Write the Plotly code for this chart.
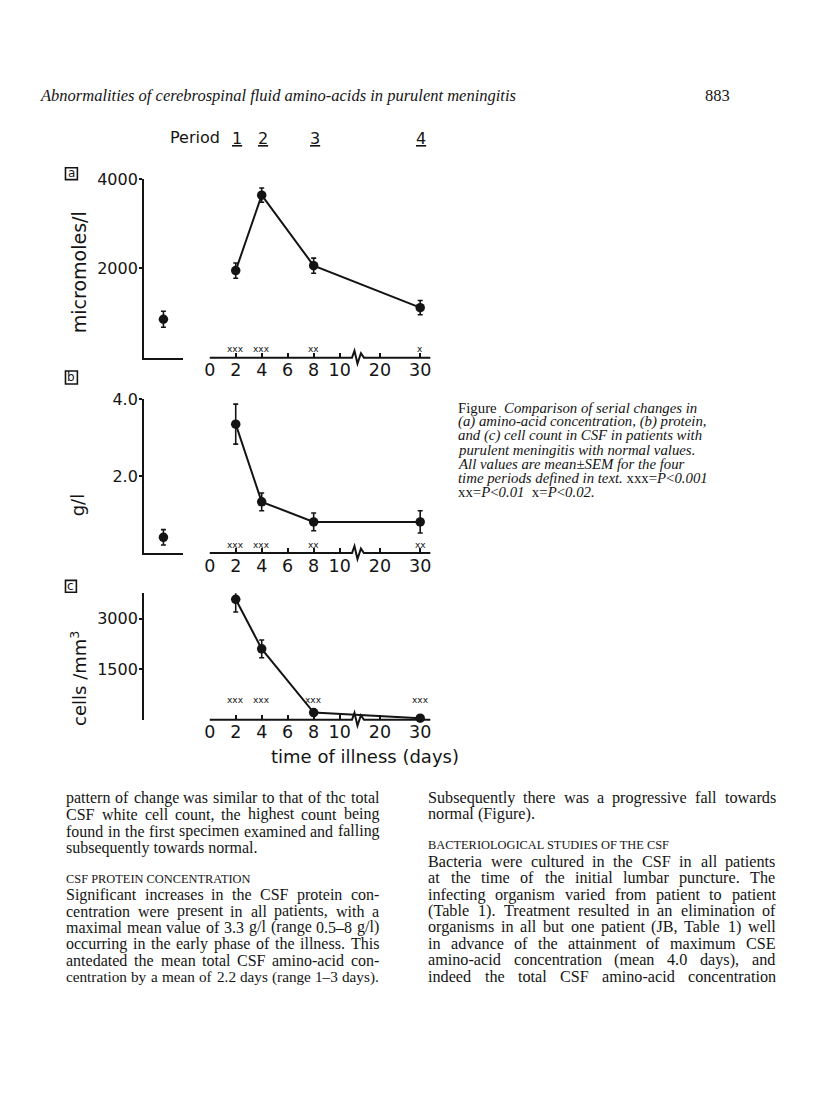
import plotly.graph_objects as go

"""
Serial CSF changes in purulent meningitis: amino-acids, protein and cell count,
laid out as the printed journal page (p. 883).
"""

W, H = 816, 1110
INK = "#141414"
SANS = "DejaVu Sans"
SERIF = "Liberation Serif"

# ---- data ----
NORMAL_LABEL = ["normal"]
DAYS = [2, 4, 8, 30]
DAY_TICKS = [0, 2, 4, 6, 8, 10, 20, 30]
PERIODS = ["1", "2", "3", "4"]

AMINO_NORMAL = [860]
AMINO_NORMAL_SEM = [180]
AMINO_MEAN = [1950, 3640, 2060, 1120]
AMINO_SEM = [170, 160, 170, 160]
AMINO_SIG = ["xxx", "xxx", "xx", "x"]

PROTEIN_NORMAL = [0.41]
PROTEIN_NORMAL_SEM = [0.2]
PROTEIN_MEAN = [3.35, 1.33, 0.81, 0.81]
PROTEIN_SEM = [0.52, 0.23, 0.23, 0.29]
PROTEIN_SIG = ["xxx", "xxx", "xx", "xx"]

CELLS_MEAN = [3570, 2100, 210, 45]
CELLS_SEM = [375, 265, 0, 0]
CELLS_SIG = ["xxx", "xxx", "xxx", "xxx"]

CAPTION = [
    "Figure  <i>Comparison of serial changes in</i>",
    "<i>(a) amino-acid concentration, (b) protein,</i>",
    "<i>and (c) cell count in CSF in patients with</i>",
    "<i>purulent meningitis with normal values.</i>",
    "<i>All values are mean±SEM for the four</i>",
    "<i>time periods defined in text.</i> xxx=<i>P</i>&lt;<i>0.001</i>",
    "xx=<i>P</i>&lt;<i>0.01</i>  x=<i>P</i>&lt;<i>0.02.</i>",
]

LEFT_COL = [
    "pattern of change was similar to that of thc total",
    "CSF white cell count, the highest count being",
    "found in the first specimen examined and falling",
    "subsequently towards normal.",
    "CSF PROTEIN CONCENTRATION",
    "Significant increases in the CSF protein con-",
    "centration were present in all patients, with a",
    "maximal mean value of 3.3 g/l (range 0.5–8 g/l)",
    "occurring in the early phase of the illness. This",
    "antedated the mean total CSF amino-acid con-",
    "centration by a mean of 2.2 days (range 1–3 days).",
]

RIGHT_COL = [
    "Subsequently there was a progressive fall towards",
    "normal (Figure).",
    "BACTERIOLOGICAL STUDIES OF THE CSF",
    "Bacteria were cultured in the CSF in all patients",
    "at the time of the initial lumbar puncture. The",
    "infecting organism varied from patient to patient",
    "(Table 1). Treatment resulted in an elimination of",
    "organisms in all but one patient (JB, Table 1) well",
    "in advance of the attainment of maximum CSE",
    "amino-acid concentration (mean 4.0 days), and",
    "indeed the total CSF amino-acid concentration",
]

# ---- page layout (pixels) ----
LEFT_Y = [795, 812, 829, 845.5, 877, 893, 909.5, 926, 942.5, 959, 975.5]
RIGHT_Y = [795, 812, 843, 860, 876.5, 893, 909.5, 926, 942.5, 959, 975.5]
CAPS_SIZE = 12.4

# Times / Liberation Serif advance widths (1/1000 em), for justifying the columns
SERIF_W = {" ": 250, "(": 333, ")": 333, ",": 250, "-": 333, ".": 250, "/": 278, ":": 278,
           ";": 278, "–": 500, "'": 333}
SERIF_W.update({c: 500 for c in "0123456789"})
SERIF_W.update(dict(A=722, B=667, C=667, D=722, E=611, F=556, G=722, H=722, I=333, J=389, K=722,
                    L=611, M=889, N=722, O=722, P=556, Q=722, R=667, S=556, T=611, U=722, V=722,
                    W=944, X=722, Y=722, Z=611))
SERIF_W.update(dict(a=444, b=500, c=444, d=500, e=444, f=333, g=500, h=500, i=278, j=278, k=500,
                    l=278, m=778, n=500, o=500, p=500, q=500, r=333, s=389, t=278, u=500, v=500,
                    w=722, x=500, y=500, z=444))


def px(x):
    return x / W


def py(y):
    return 1 - y / H


def day_pos(d):
    # broken time axis: linear to day 10, compressed after the break
    return d if d <= 10 else 10 + (d - 10) * 0.31


def serif_width(s, size):
    return sum(SERIF_W.get(ch, 500) for ch in s) * size / 1000


annotations = []
shapes = []


def note(text, x, y, size, anchor="left", family=SERIF, **kw):
    annotations.append(dict(text=text, x=px(x), y=py(y), xref="paper", yref="paper",
                            xanchor=anchor, yanchor="middle", showarrow=False, borderpad=0,
                            font=dict(family=family, size=size, color=INK), **kw))


def set_line(line, x, y, width, size):
    if line.isupper():
        note(line, x, y, CAPS_SIZE)
        return
    words = line.split(" ")
    if serif_width(line, size) < 0.8 * width:
        note(line, x, y, size)
        return
    # shrink a crowded line a little so words keep a real space between them
    em = sum(serif_width(w, 1) for w in words)
    size = min(size, width / (em + 0.3 * (len(words) - 1)))
    gap = (width - em * size) / (len(words) - 1)
    cx = x
    for w in words:
        note(w, cx, y, size)
        cx += serif_width(w, size) + gap


panels = [
    dict(letter="a", top=171.5, bottom=351.5, ymax=4000, tickvals=[2000, 4000], ticktext=["2000", "4000"],
         normal=AMINO_NORMAL, normal_sem=AMINO_NORMAL_SEM, mean=AMINO_MEAN, sem=AMINO_SEM, sig=AMINO_SIG,
         sig_y=343, box=(60, 160, 72, 172), title="micromoles/l", title_y=265),
    dict(letter="b", top=393.3, bottom=548.5, ymax=4.0, tickvals=[2.0, 4.0], ticktext=["2.0", "4.0"],
         normal=PROTEIN_NORMAL, normal_sem=PROTEIN_NORMAL_SEM, mean=PROTEIN_MEAN, sem=PROTEIN_SEM, sig=PROTEIN_SIG,
         sig_y=540, box=(60, 365, 72, 378), title="g/l", title_y=500),
    dict(letter="c", top=589, bottom=716.5, ymax=3750, tickvals=[1500, 3000], ticktext=["1500", "3000"],
         normal=None, normal_sem=None, mean=CELLS_MEAN, sem=CELLS_SEM, sig=CELLS_SIG,
         sig_y=697, box=(60, 576, 71, 588), title="cells /mm<sup>3</sup>", title_y=675),
]

fig = go.Figure()
layout = {}

for i, p in enumerate(panels):
    xn = "x" if i == 0 else f"x{2 * i + 1}"
    xt = f"x{2 * i + 2}"
    yy = "y" if i == 0 else f"y{i + 1}"
    xn_key = "xaxis" if i == 0 else f"xaxis{2 * i + 1}"
    xt_key = f"xaxis{2 * i + 2}"
    y_key = "yaxis" if i == 0 else f"yaxis{i + 1}"

    layout[xn_key] = dict(domain=[px(139.3), px(178.3)], anchor=yy, type="category", range=[-0.5, 0.5],
                          showline=True, linecolor=INK, linewidth=2, ticks="", showticklabels=False,
                          showgrid=False, zeroline=False, fixedrange=True)
    layout[xt_key] = dict(domain=[px(205.5), px(428)], anchor=yy, range=[0, 16.98],
                          showline=False, showgrid=False, zeroline=False,
                          tickmode="array", tickvals=[day_pos(d) for d in DAY_TICKS],
                          ticktext=[str(d) for d in DAY_TICKS],
                          ticks="inside", ticklen=5, tickwidth=1.6, tickcolor=INK,
                          tickfont=dict(family=SANS, size=17.5, color=INK), fixedrange=True)
    layout[y_key] = dict(domain=[py(p["bottom"]), py(p["top"])], anchor=xn, range=[0, p["ymax"]],
                         showline=True, linecolor=INK, linewidth=2, showgrid=False, zeroline=False,
                         tickmode="array", tickvals=p["tickvals"], ticktext=p["ticktext"],
                         ticks="outside", ticklen=3, tickwidth=1.6, tickcolor=INK, ticklabelstandoff=-2,
                         tickfont=dict(family=SANS, size=16, color=INK), fixedrange=True)

    if p["normal"] is not None:
        fig.add_trace(go.Scatter(x=NORMAL_LABEL, y=p["normal"], xaxis=xn, yaxis=yy, mode="markers",
                                 marker=dict(size=9.5, color=INK), cliponaxis=False,
                                 error_y=dict(type="data", array=p["normal_sem"], color=INK,
                                              thickness=1.6, width=2.5)))

    fig.add_trace(go.Scatter(x=[day_pos(d) for d in DAYS], y=p["mean"], xaxis=xt, yaxis=yy,
                             mode="lines+markers", line=dict(color=INK, width=2),
                             marker=dict(size=9.5, color=INK), cliponaxis=False,
                             error_y=dict(type="data", array=p["sem"], color=INK, thickness=1.6, width=2.5)))

    # significance marks above the time axis
    for d, s in zip(DAYS, p["sig"]):
        annotations.append(dict(text=s, x=day_pos(d), xref=xt, y=py(p["sig_y"]), yref="paper",
                                xanchor="center", yanchor="middle", showarrow=False,
                                font=dict(family=SANS, size=9, color=INK)))

    # time axis line with the break
    yb = p["bottom"]
    pts = [(205.5, yb), (349, yb), (351.5, yb - 7), (354.5, yb + 6), (358, yb - 4.5), (361, yb), (428, yb)]
    path = "M " + " L ".join(f"{px(a):.5f},{py(b):.5f}" for a, b in pts)
    shapes.append(dict(type="path", path=path, xref="paper", yref="paper", line=dict(color=INK, width=2)))

    # boxed panel letter
    x0, y0, x1, y1 = p["box"]
    shapes.append(dict(type="rect", x0=px(x0), x1=px(x1), y0=py(y1), y1=py(y0), xref="paper", yref="paper",
                       line=dict(color=INK, width=1.6)))
    note(p["letter"], (x0 + x1) / 2, (y0 + y1) / 2 - 0.5, 12, anchor="center", family=SANS)

    note(p["title"], 73, p["title_y"], 19 if i == 0 else 18, anchor="center", family=SANS, textangle=-90)

# period numbers over panel a
note("Period", 217, 130, 16, anchor="right", family=SANS)
for d, lab in zip(DAYS, PERIODS):
    annotations.append(dict(text=f"<u>{lab}</u>", x=day_pos(d), xref="x2", xshift=1, y=py(131), yref="paper",
                            xanchor="center", yanchor="middle", showarrow=False,
                            font=dict(family=SANS, size=16, color=INK)))

note("time of illness (days)", 362, 754, 18, anchor="center", family=SANS)

# page furniture
note("<i>Abnormalities of cerebrospinal fluid amino-acids in purulent meningitis</i>", 33, 87, 16.5)
note("883", 731, 87, 16.5, anchor="right")

for k, line in enumerate(CAPTION):
    note(line, 455, 402 + k * 14.2, 14.8)

for line, y in zip(LEFT_COL, LEFT_Y):
    set_line(line, 60, y, 315, 16)

for line, y in zip(RIGHT_COL, RIGHT_Y):
    set_line(line, 425, y, 350, 16.2)

fig.update_layout(width=W, height=H, margin=dict(l=0, r=0, t=0, b=0),
                  paper_bgcolor="white", plot_bgcolor="rgba(0,0,0,0)", showlegend=False,
                  annotations=annotations, shapes=shapes, **layout)

fig.write_html("out.html", config={"displayModeBar": False},
               post_script="document.body.style.margin='0px';document.body.style.overflow='hidden';")
